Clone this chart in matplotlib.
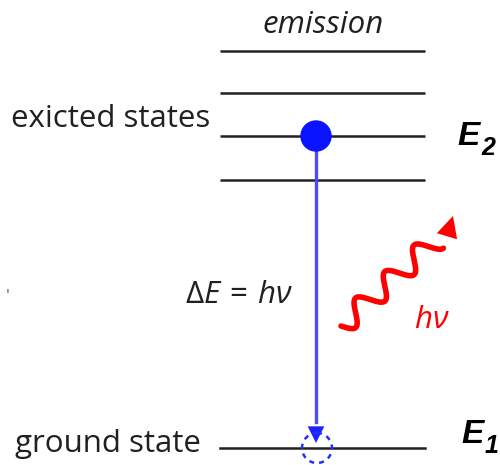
import numpy as np
import matplotlib
matplotlib.use("Agg")
from matplotlib import pyplot as plt
from matplotlib.patches import Circle, FancyArrowPatch

plt.rcParams['mathtext.fontset'] = 'custom'
plt.rcParams['mathtext.rm'] = 'Open Sans'
plt.rcParams['mathtext.it'] = 'Open Sans:italic'

# livelli (coordinate in pixel dell'immagine)
excited_y = [51, 93, 136, 180]
ground_y = 448
level_x = (220, 425)
electron_x = 316
txt = '#231f20'
fs = 22.5

fig = plt.figure(figsize=(5, 4.65), dpi=100)
ax = fig.add_axes([0, 0, 1, 1])
ax.set_xlim(0, 500)
ax.set_ylim(465, 0)
ax.axis('off')

for y in excited_y:
    ax.plot(level_x, [y, y], color='#222222', lw=1.8, solid_capstyle='butt')
ax.plot(level_x, [ground_y, ground_y], color='#222222', lw=1.8)

# transizione
ax.plot([electron_x, electron_x], [136, 422], color='#4a4aff', lw=2.4)
ax.add_patch(FancyArrowPatch((electron_x, 418), (electron_x, 443), arrowstyle='-|>',
    mutation_scale=30, color='#2020ff', lw=0, shrinkA=0, shrinkB=0))
ax.add_patch(Circle((electron_x, 136), 15, color='#0a14ff', zorder=5))
ax.add_patch(Circle((electron_x + 1, 448), 15, fill=False, ec='#2030ff', lw=1.8,
    ls=(0, (2, 2)), zorder=5))

# fotone
p0 = np.array([341.0, 326.0])
p1 = np.array([436.0, 240.0])
d = p1 - p0
L = np.hypot(*d)
u = d / L
n = np.array([u[1], -u[0]])
s = np.linspace(0, L, 300)
w = 11 * np.sin(2 * np.pi * s / L * 3.25 + np.pi)
xs = p0[0] + u[0] * s + n[0] * w
ys = p0[1] + u[1] * s + n[1] * w
ax.plot(xs, ys, color='#ff0000', lw=4, solid_capstyle='round')
ax.add_patch(FancyArrowPatch((xs[-1], ys[-1]), (453, 216), arrowstyle='-|>',
    mutation_scale=38, color='#ff0000', lw=0, shrinkA=0, shrinkB=0))

ax.text(323, 33, 'emission', style='italic', fontsize=fs, ha='center', va='baseline',
    color=txt, family='Open Sans')
ax.text(210, 127, 'exicted states', fontsize=fs, ha='right', va='baseline',
    color=txt, family='Open Sans')
ax.text(201, 452, 'ground state', fontsize=fs, ha='right', va='baseline',
    color=txt, family='Open Sans')
ax.text(239, 303, r'$\Delta E\,=\,h\nu$', fontsize=fs, ha='center', va='baseline',
    color=txt)
ax.text(432, 328, r'$h\nu$', fontsize=fs, ha='center', va='baseline', color='#ff0000')

ax.text(457, 145, 'E', fontsize=24, weight='bold', style='italic', ha='left',
    va='baseline', family='Liberation Sans')
ax.text(481, 155, '2', fontsize=18, weight='bold', style='italic', ha='left',
    va='baseline', family='Liberation Sans')
ax.text(461, 443, 'E', fontsize=24, weight='bold', style='italic', ha='left',
    va='baseline', family='Liberation Sans')
ax.text(485, 453, '1', fontsize=18, weight='bold', style='italic', ha='left',
    va='baseline', family='Liberation Sans')

ax.text(8, 295, "'", fontsize=10, ha='center', va='center', color='#555555')

fig.savefig('out.png', dpi=100)
